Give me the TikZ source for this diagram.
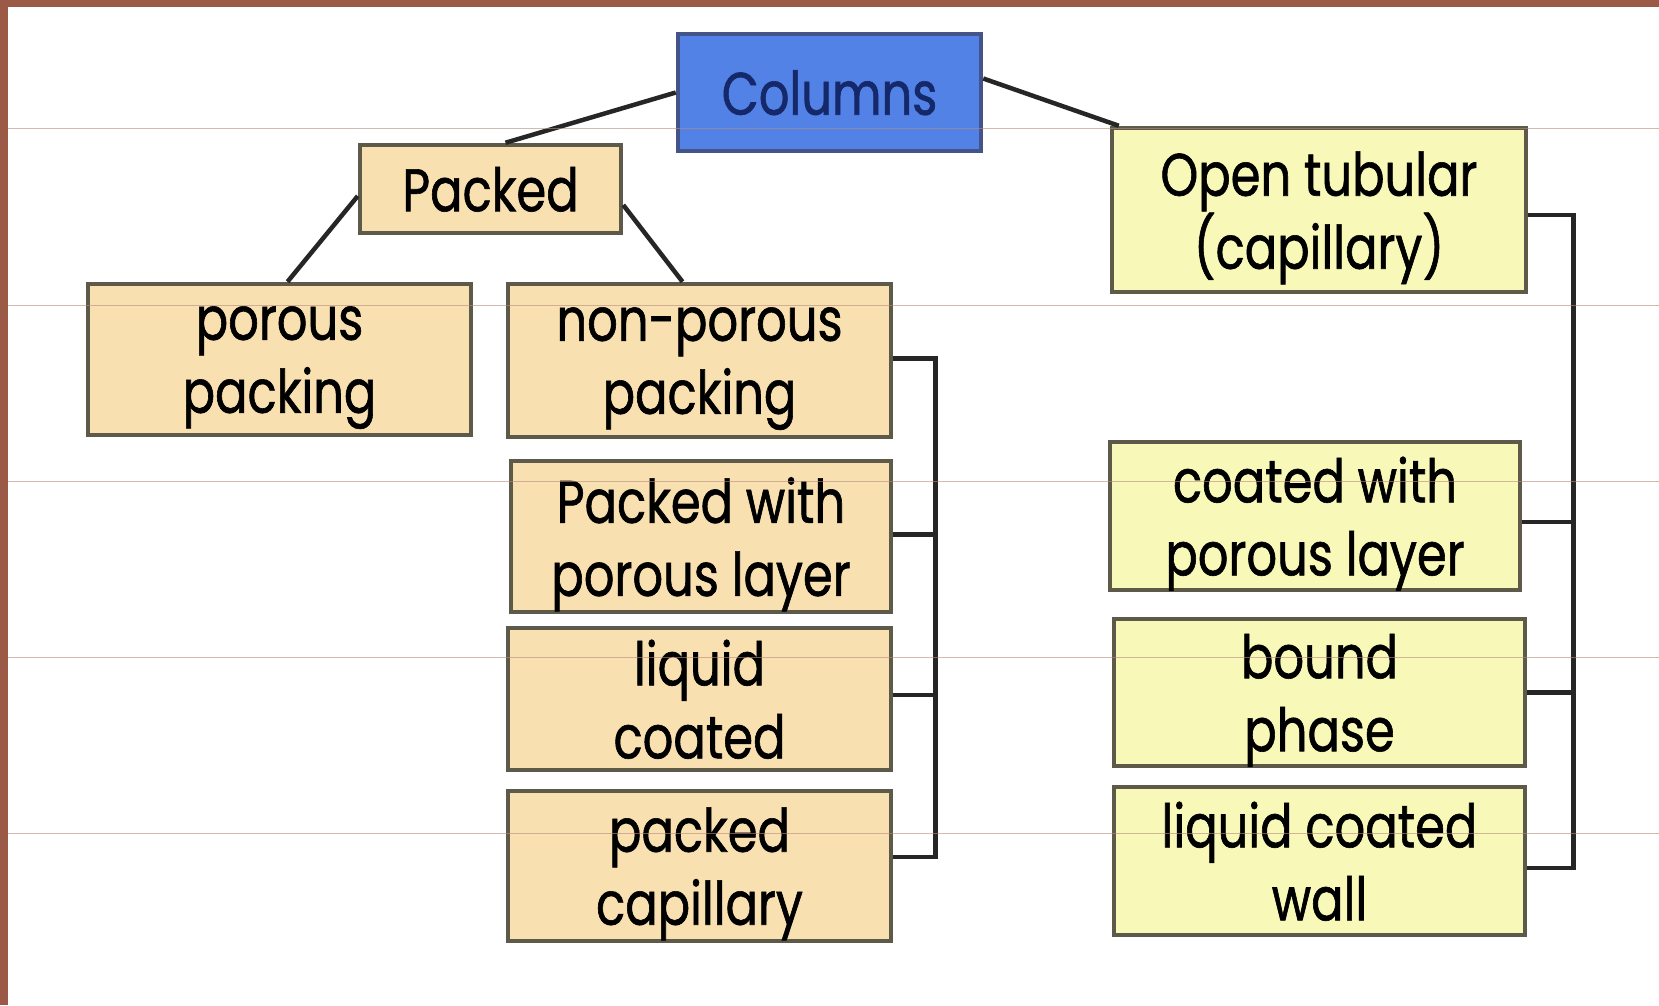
\documentclass[tikz,border=0pt]{standalone}
\usepackage{fontspec}
\newfontfamily\boxfont[FakeStretch=0.8, FakeBold=1]{Poppins}
\definecolor{frame}{HTML}{9A5A45}
\definecolor{colblue}{HTML}{5282E6}
\definecolor{colnavy}{HTML}{15286A}
\definecolor{peach}{HTML}{F8E0B0}
\definecolor{paleyel}{HTML}{F8F8B8}
\definecolor{edge}{HTML}{5E5A4A}
\begin{document}
\begin{tikzpicture}[x=1pt, y=-1pt,
    box/.style={rectangle, draw=edge, line width=4.5pt, align=center, inner sep=0pt,
        text depth=0pt, font=\boxfont\fontsize{60}{73}\selectfont},
    root/.style={box, fill=colblue, draw=colnavy!80, text=colnavy},
    packbox/.style={box, fill=peach},
    tubebox/.style={box, fill=paleyel},
    link/.style={line width=4.5pt, black!85}
]
\useasboundingbox (0,0) rectangle (1659,1005);
\fill[white] (0,0) rectangle (1659,1005);
\fill[frame] (0,0) rectangle (1659,7);
\fill[frame] (0,0) rectangle (8,1005);

% Root
\node[root, minimum width=303pt, minimum height=117pt] (cols) at (829.5,92.5) {Columns};

% Packed branch
\node[packbox, minimum width=261pt, minimum height=88pt] (packed) at (490.5,189) {Packed};
\node[packbox, minimum width=383pt, minimum height=151pt] (porous) at (279.5,359.5) {porous\\packing};
\node[packbox, minimum width=383pt, minimum height=153pt] (nonpor) at (699.5,360.5) {non-porous\\packing};
\node[packbox, minimum width=380pt, minimum height=151pt] (pwpl) at (701,536.5) {Packed with\\porous layer};
\node[packbox, minimum width=383pt, minimum height=142pt] (liqc) at (699.5,699) {liquid\\coated};
\node[packbox, minimum width=383pt, minimum height=150pt] (pcap) at (699.5,866) {packed\\capillary};

% Open tubular branch
\node[tubebox, minimum width=414pt, minimum height=164pt] (open) at (1319,210) {Open tubular\\(capillary)};
\node[tubebox, minimum width=410pt, minimum height=148pt] (cwpl) at (1315,516) {coated with\\porous layer};
\node[tubebox, minimum width=411pt, minimum height=147pt] (bound) at (1319.5,692.5) {bound\\phase};
\node[tubebox, minimum width=411pt, minimum height=148pt] (lcw) at (1319.5,861) {liquid coated\\wall};

% Connections
\draw[link] (cols.west) -- ([xshift=15pt]packed.north);
\draw[link] ([yshift=14pt]cols.east) -- ([xshift=9pt]open.north west);
\draw[link] ([yshift=-7pt]packed.west) -- ([xshift=8pt]porous.north);
\draw[link] ([yshift=-16pt]packed.east) -- ([xshift=-17pt]nonpor.north);

% Brackets
\draw[link] ([yshift=2pt]nonpor.east) -- ++(42,0) coordinate (lb) |- ([yshift=9pt]pcap.east);
\draw[link] ([yshift=2pt]pwpl.east) -- ([yshift=2pt]pwpl.east -| lb);
\draw[link] ([yshift=4pt]liqc.east) -- ([yshift=4pt]liqc.east -| lb);
\draw[link] ([yshift=-5pt]open.east) -- ++(45,0) coordinate (rb) |- ([yshift=-7pt]lcw.east);
\draw[link] ([yshift=-6pt]cwpl.east) -- ([yshift=-6pt]cwpl.east -| rb);
\draw[link] (bound.east) -- (bound.east -| rb);

% Ruled lines
\foreach \y in {128,305,481,657,833}
    \draw[frame!70, line width=0.8pt, opacity=0.6] (8,\y) -- (1659,\y);
\end{tikzpicture}
\end{document}
